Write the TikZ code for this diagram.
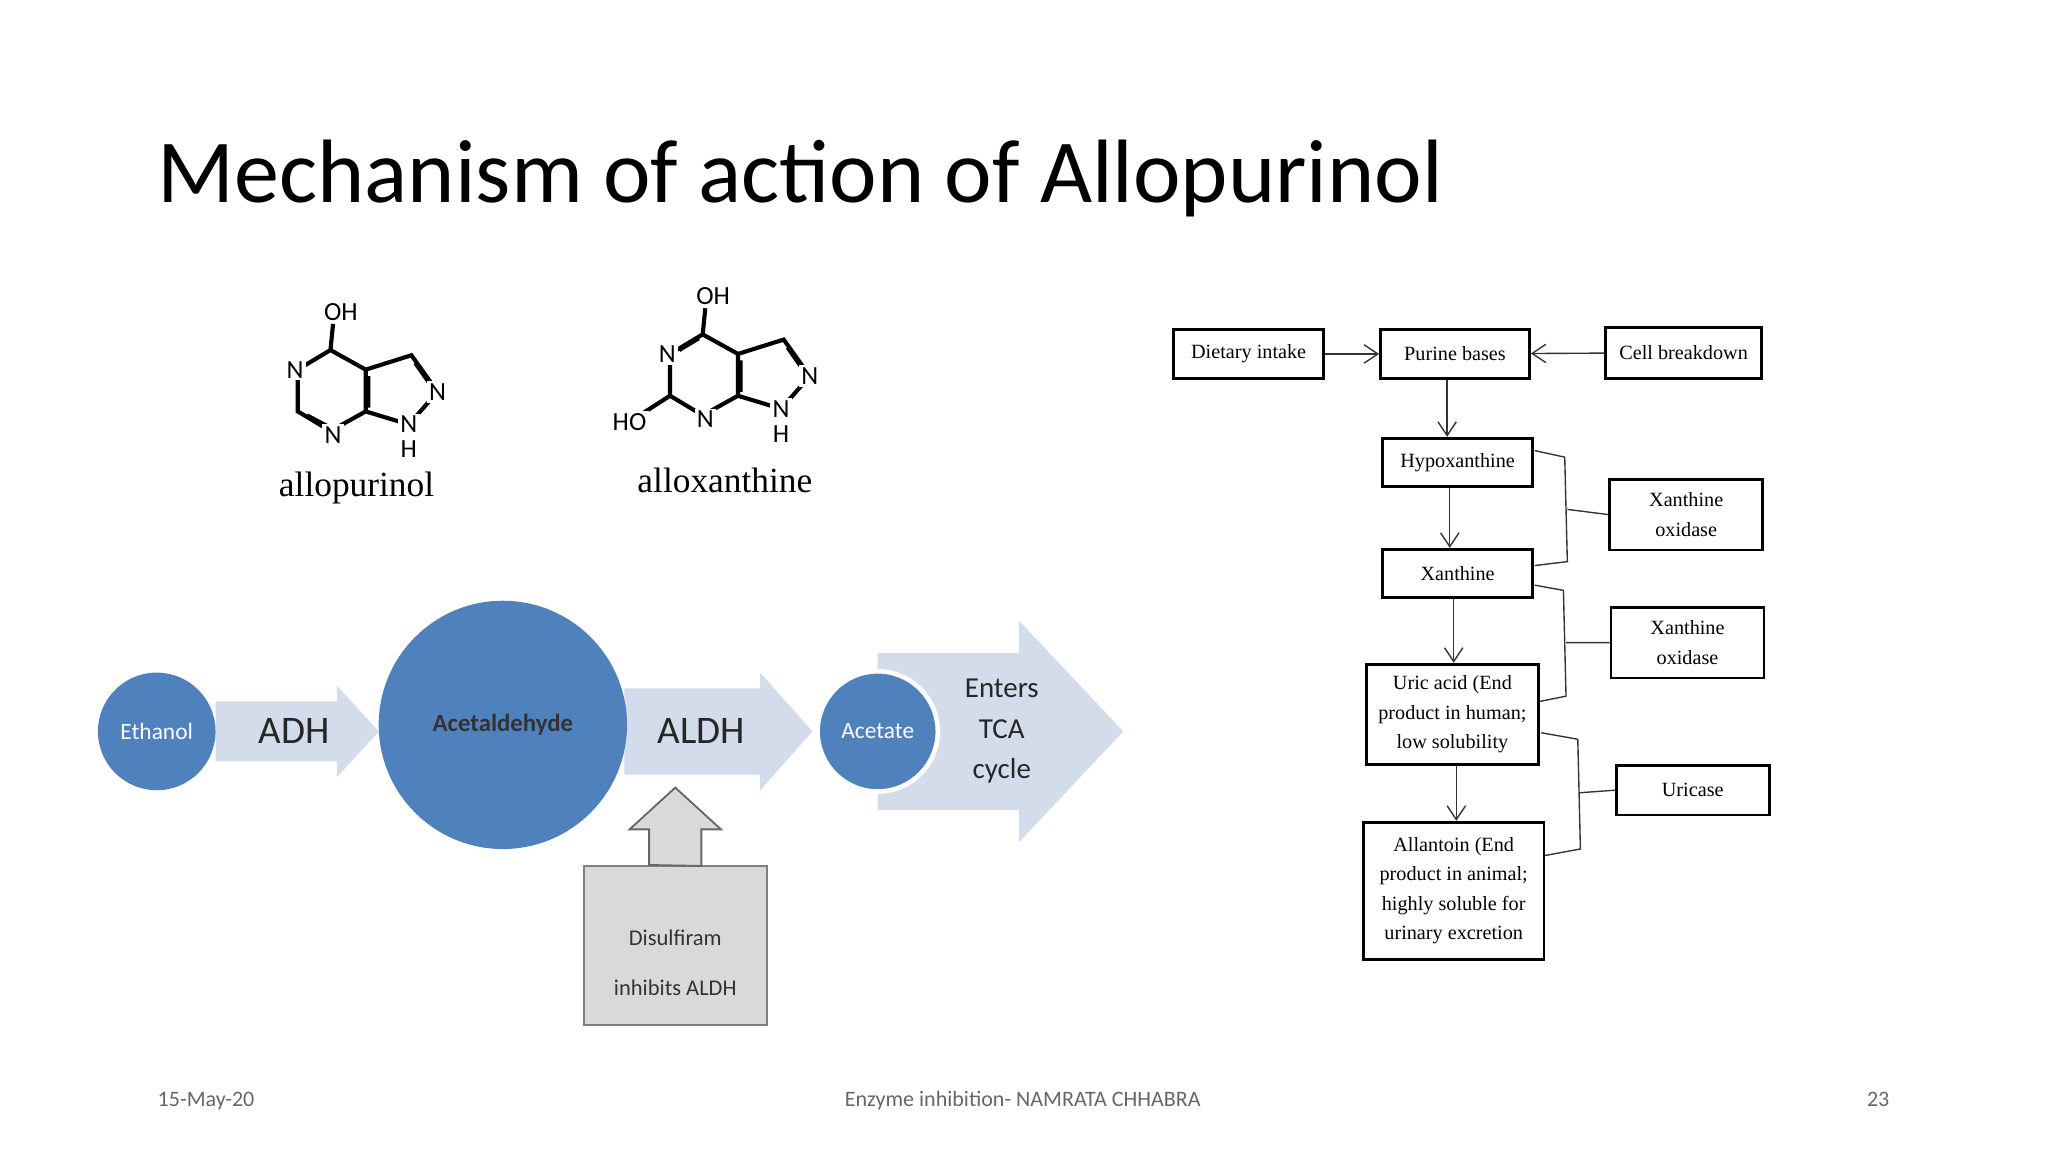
\documentclass[tikz,border=0pt]{standalone}
\usepackage{fontspec}
\setmainfont{Carlito}
\newfontfamily\serifF{Liberation Serif}
\usetikzlibrary{arrows.meta}
\definecolor{cblue}{HTML}{4F81BD}
\definecolor{lblue}{HTML}{D3DCEA}
\definecolor{gbox}{HTML}{D9D9D9}
\newcommand{\fs}[1]{\fontsize{#1}{#1}\selectfont}
\tikzset{
 fbox/.style={draw=black,line width=0.6pt,fill=white,inner sep=0,align=center,font=\serifF\fs{4.4}},
 farr/.style={-{Straight Barb[length=3pt,width=4pt]},line width=0.3pt,draw=black!80},
 brk/.style={line width=0.3pt,draw=black!80},
 bond/.style={line width=0.9pt},
 lbl/.style={font=\fs{5.7},inner sep=0.5pt,fill=white},
 circ/.style={circle,fill=cblue,text=white,inner sep=0},
}
\begin{document}
\begin{tikzpicture}[x=0.01cm,y=-0.01cm]
\useasboundingbox (0,0) rectangle (1568,882);
\node[anchor=base west,font=\fs{19.6},inner sep=0] (title) at (120,155) {Mechanism of action of Allopurinol};
% footer
\node[anchor=base west,font=\fs{4.8},text=black!60,inner sep=0] (f1) at (120,847) {15-May-20};
\node[anchor=base,font=\fs{4.8},text=black!60] (f2) at (783,847) {Enzyme inhibition- NAMRATA CHHABRA};
\node[anchor=base,font=\fs{4.8},text=black!60] (f3) at (1438,847) {23};
% allopurinol
\begin{scope}
\draw[bond] (253,268)--(228,283) (228,283)--(228,315)--(253,330)--(280,315)--(280,283)--(253,268)--(255,248);
\draw[bond] (282,288)--(282,312) (235,318)--(252,327);
\draw[bond] (280,283)--(315,272)--(335,300)--(313,325)--(280,315) (318,278)--(332,298);
\node[lbl] at (226,283) {N};
\node[lbl] at (255,333) {N};
\node[lbl] at (335,300) {N};
\node[lbl] at (313,325) {N};
\node[font=\fs{5.7}] at (313,344) {H};
\node[font=\fs{5.7}] at (261,239) {OH};
\node[font=\serifF\fs{7.7}] (allo) at (273,374) {allopurinol};
\end{scope}
\begin{scope}[shift={(285,-12)}]
\draw[bond] (253,268)--(228,283) (228,283)--(228,315)--(253,330)--(280,315)--(280,283)--(253,268)--(255,248);
\draw[bond] (282,288)--(282,312) (235,280)--(250,271);
\draw[bond] (228,315)--(200,333);
\draw[bond] (280,283)--(315,272)--(335,300)--(313,325)--(280,315) (318,278)--(332,298);
\node[lbl] at (226,283) {N};
\node[lbl] at (255,333) {N};
\node[lbl] at (335,300) {N};
\node[lbl] at (313,325) {N};
\node[font=\fs{5.7}] at (313,344) {H};
\node[font=\fs{5.7}] at (261,239) {OH};
\node[lbl] at (197,335) {HO};
\node[font=\serifF\fs{7.7}] (allox) at (270,380) {alloxanthine};
\end{scope}
% left pathway
\fill[lblue] (165,537)--(258,537)--(258,525)--(290,560)--(258,595)--(258,583)--(165,583)--cycle;
\node[font=\fs{8.5},text=black!85] (adh) at (225,560) {ADH};
\fill[lblue] (478,527)--(582,527)--(582,515)--(622,560)--(582,605)--(582,593)--(478,593)--cycle;
\node[font=\fs{8.5},text=black!85] (aldh) at (537,560) {ALDH};
\fill[lblue] (672,500)--(780,500)--(780,475)--(860,560)--(780,645)--(780,620)--(672,620)--cycle;
\node[font=\fs{6.3},align=center,text=black!85] (tca) at (767,560) {Enters\\[2.5pt]TCA\\[2.5pt]cycle};
\node[circ,minimum size=0.9cm,font=\fs{5.1}] (eth) at (120,560) {Ethanol};
\node[circ,minimum size=1.9cm,font=\bfseries\fs{5.4},text=black!80] (acet) at (385,555) {Acetaldehyde};
\node[circ,draw=white,line width=1pt,minimum size=0.92cm,font=\fs{5.1}] (acate) at (672,560) {Acetate};
\node[draw=black!50,fill=gbox,minimum width=1.4cm,minimum height=1.22cm,align=center,font=\fs{4.9},text=black!80] (dis) at (517,724) {\\[6pt]Disulfiram\\[6pt]inhibits ALDH};
\draw[draw=black!60,fill=gbox] (dis.north)++(-20,0)--(497,635)--(482,635)--(517,603)--(552,635)--(537,635)--(537,663)--cycle;
% flowchart
\node[fbox,minimum width=1.15cm,minimum height=0.38cm] (diet) at (956,271) {Dietary intake};
\node[fbox,minimum width=1.14cm,minimum height=0.38cm] (pur) at (1114,271) {Purine bases};
\node[fbox,minimum width=1.19cm,minimum height=0.39cm] (cell) at (1289,270) {Cell breakdown};
\node[fbox,minimum width=1.15cm,minimum height=0.37cm] (hyp) at (1116,354) {Hypoxanthine};
\node[fbox,minimum width=1.15cm,minimum height=0.37cm] (xan) at (1116,439) {Xanthine};
\node[fbox,minimum width=1.32cm,minimum height=0.77cm] (uric) at (1112,547) {Uric acid (End\\[2pt]product in human;\\[2pt]low solubility};
\node[fbox,minimum width=1.38cm,minimum height=1.05cm] (alla) at (1113,682) {Allantoin (End\\[2pt]product in animal;\\[2pt]highly soluble for\\[2pt]urinary excretion};
\node[fbox,minimum width=1.17cm,minimum height=0.54cm] (xo1) at (1291,394) {Xanthine\\[2pt]oxidase};
\node[fbox,minimum width=1.17cm,minimum height=0.54cm] (xo2) at (1292,492) {Xanthine\\[2pt]oxidase};
\node[fbox,minimum width=1.17cm,minimum height=0.38cm] (uri) at (1296,605) {Uricase};
\draw[farr] (diet)--(pur);
\draw[farr] (cell)--(pur);
\draw[farr] (pur.south)+(-6,0) coordinate (p1) (p1)--(p1|-hyp.north);
\draw[farr] (hyp.south)+(-6,0) coordinate (p2) (p2)--(p2|-xan.north);
\draw[farr] (xan.south)+(-3,0) coordinate (p3) (p3)--(p3|-uric.north);
\draw[farr] (uric.south)+(3,0) coordinate (p4) (p4)--(p4|-alla.north);
\draw[brk] (1175,345)--(1198,350)--(1200,430)--(1175,433) (1200,390)--(xo1.west);
\draw[brk] (1175,448)--(1197,452)--(1199,533)--(1179,537) (1199,492)--(xo2.west);
\draw[brk] (1180,561)--(1208,566)--(1210,650)--(1183,655) (1209,607)--(uri.west);
\end{tikzpicture}
\end{document}
